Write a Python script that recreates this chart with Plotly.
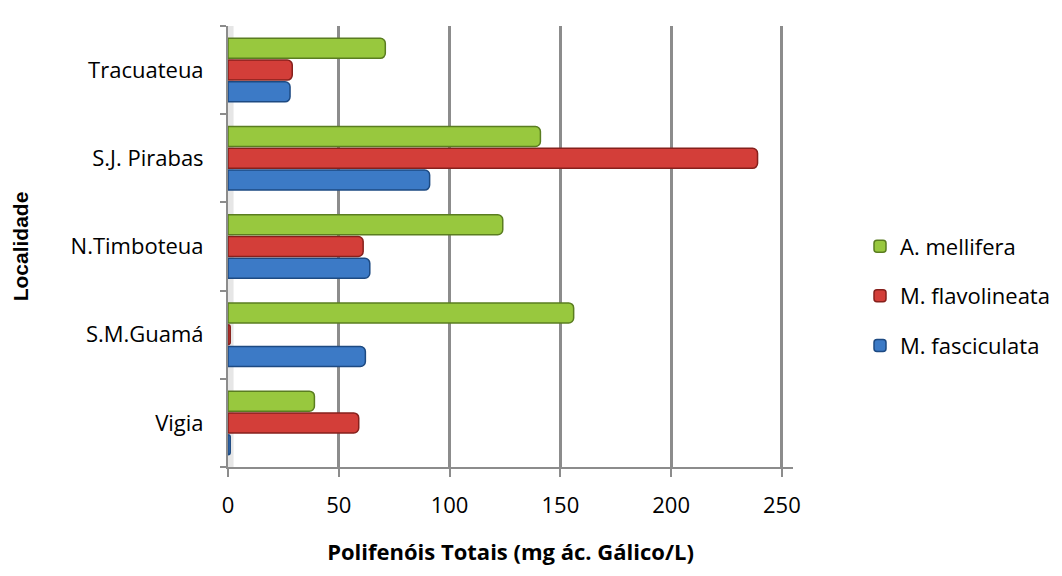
import plotly.graph_objects as go

localidades = ["Vigia", "S.M.Guamá", "N.Timboteua", "S.J. Pirabas", "Tracuateua"]
m_fasciculata = [1, 62, 64, 91, 28]
m_flavolineata = [59, 1, 61, 239, 29]
a_mellifera = [39, 156, 124, 141, 71]

x_ticks = [0, 50, 100, 150, 200, 250]

series = [
    ("M. fasciculata", m_fasciculata, "#3C7AC6", "#1D4A82", 3),
    ("M. flavolineata", m_flavolineata, "#D33E39", "#86201C", 2),
    ("A. mellifera", a_mellifera, "#98C83E", "#5A7D20", 1),
]

fig = go.Figure()
for i, (name, vals, col, line, rank) in enumerate(series):
    fig.add_trace(go.Bar(
        y=localidades, x=vals, name=name, orientation="h",
        marker=dict(color=col, line=dict(color=line, width=1.5), cornerradius=5),
        legendgroup=f"g{i}", legendrank=rank,
    ))

font_family = "Open Sans, Lato, sans-serif"
fig.update_layout(
    width=1062, height=576,
    margin=dict(l=228, r=269, t=26, b=109),
    paper_bgcolor="white", plot_bgcolor="white",
    barmode="group", bargap=0.26, bargroupgap=0.08,
    font=dict(family=font_family, size=22, color="black"),
    showlegend=True,
    legend=dict(traceorder="grouped", tracegroupgap=18,
                x=860/1062, xanchor="left", xref="container",
                y=0.388, yanchor="middle",
                font=dict(size=22), itemwidth=30),
    xaxis=dict(range=[0, 255], tickvals=x_ticks, ticktext=[str(v) for v in x_ticks],
               showgrid=True, gridcolor="#8C8C8C", gridwidth=3,
               showline=True, linecolor="#8C8C8C", linewidth=2,
               ticks="outside", ticklen=8, tickcolor="#8C8C8C", tickwidth=2,
               ticklabelstandoff=10, zeroline=False,
               title=dict(text="<b>Polifenóis Totais (mg ác. Gálico/L)</b>",
                          font=dict(size=22), standoff=26)),
    yaxis=dict(showgrid=False, showline=True, linecolor="#8C8C8C", linewidth=2,
               ticks="outside", ticklen=6, tickcolor="#8C8C8C", tickwidth=2,
               tickson="boundaries", ticklabelstandoff=18,
               title=dict(text="<b>Localidade</b>",
                          font=dict(size=21, family="Liberation Sans, Arial, sans-serif"),
                          standoff=36)),
)

# light wall on the left
fig.add_shape(type="rect", xref="x", yref="paper", x0=0, x1=2.5, y0=0, y1=1,
              fillcolor="#E6E6E6", line=dict(width=0), layer="below")

fig.write_html("out.html")
